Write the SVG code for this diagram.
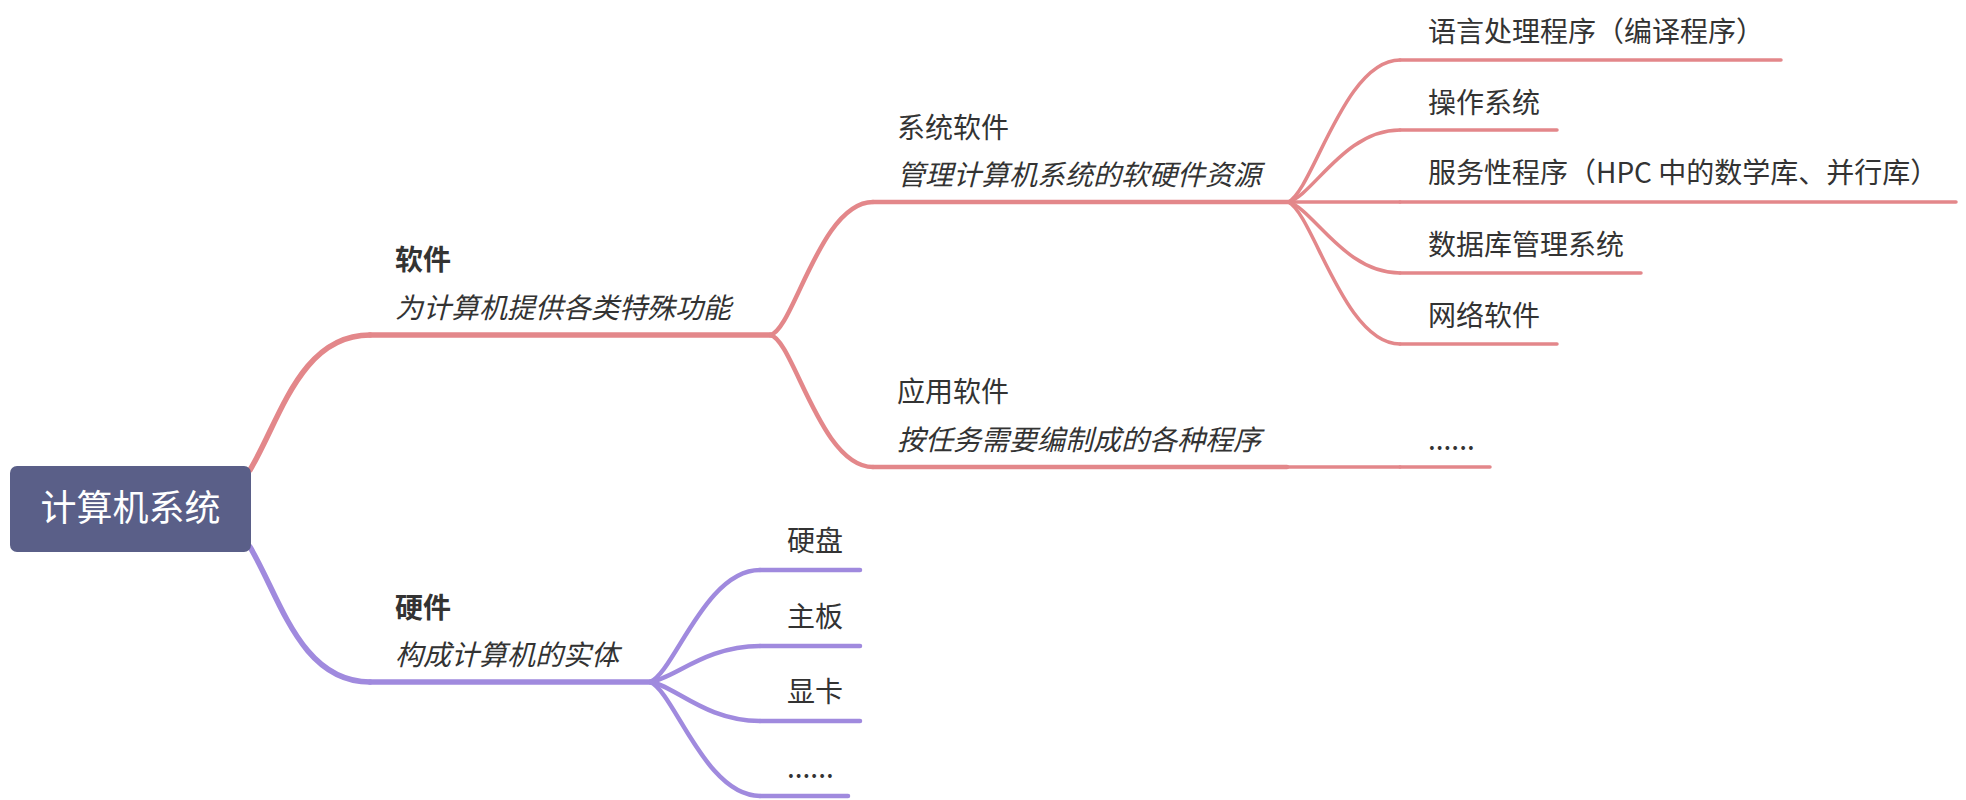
<svg xmlns="http://www.w3.org/2000/svg" width="1966" height="800" viewBox="0 0 1966 800">
<style>
text{font-family:"Noto Sans CJK SC","Noto Sans",sans-serif;fill:#333333;font-size:28px}
.root{fill:#ffffff;font-size:36px}
.b{font-weight:bold}
.i{font-style:italic}
.pk{stroke:#e3878a;fill:none;stroke-linecap:round}
.pu{stroke:#a08ade;fill:none;stroke-linecap:round}
.w1{stroke-width:5.5}
.w2{stroke-width:4.5}
.w3{stroke-width:3.5}
</style>
<rect width="1966" height="800" fill="#ffffff"/>
<g id="connectors">
<path class="pk w1" d="M 250 470 C 280 420, 300 335, 370 335"/>
<path class="pu w1" d="M 250 547 C 280 597, 300 682, 370 682"/>
<path class="pk w2" d="M 770 335 C 793 332, 820 202, 873 202"/>
<path class="pk w2" d="M 770 335 C 793 338, 820 467, 873 467"/>
<path class="pk w3" d="M 1288 202 C 1313 191, 1344 60, 1400 60"/>
<path class="pk w3" d="M 1288 202 C 1313 196, 1344 130, 1400 130"/>
<path class="pk w3" d="M 1288 202 L 1400 202"/>
<path class="pk w3" d="M 1288 202 C 1313 208, 1344 273, 1400 273"/>
<path class="pk w3" d="M 1288 202 C 1313 213, 1344 344, 1400 344"/>
<path class="pk w3" d="M 1287 467 L 1400 467"/>
<path class="pu w2" d="M 650 682 C 674 673, 705 570, 760 570"/>
<path class="pu w2" d="M 650 682 C 674 679, 705 646, 760 646"/>
<path class="pu w2" d="M 650 682 C 674 685, 705 721, 760 721"/>
<path class="pu w2" d="M 650 682 C 674 691, 705 796, 760 796"/>
</g>
<g id="root">
<rect x="10" y="466" width="241" height="86" rx="7" fill="#5a5f88"/>
<text class="root" x="130.5" y="521" text-anchor="middle">计算机系统</text>
</g>
<g id="software">
<path class="pk w1" d="M 370 335 L 770 335"/>
<text class="b" x="395" y="270">软件</text>
<text class="i" x="395" y="318">为计算机提供各类特殊功能</text>
</g>
<g id="system-software">
<path class="pk w2" d="M 873 202 L 1288 202"/>
<text x="897" y="138">系统软件</text>
<text class="i" x="897" y="185">管理计算机系统的软硬件资源</text>
</g>
<g id="application-software">
<path class="pk w2" d="M 873 467 L 1287 467"/>
<text x="897" y="402">应用软件</text>
<text class="i" x="897" y="450">按任务需要编制成的各种程序</text>
</g>
<g id="language-processor">
<path class="pk w3" d="M 1400 60 L 1781 60"/>
<text x="1428" y="42">语言处理程序（编译程序）</text>
</g>
<g id="operating-system">
<path class="pk w3" d="M 1400 130 L 1557 130"/>
<text x="1428" y="113">操作系统</text>
</g>
<g id="service-programs">
<path class="pk w3" d="M 1400 202 L 1956 202"/>
<text x="1428" y="183">服务性程序（HPC 中的数学库、并行库）</text>
</g>
<g id="dbms">
<path class="pk w3" d="M 1400 273 L 1641 273"/>
<text x="1428" y="255">数据库管理系统</text>
</g>
<g id="network-software">
<path class="pk w3" d="M 1400 344 L 1557 344"/>
<text x="1428" y="326">网络软件</text>
</g>
<g id="app-more">
<path class="pk w3" d="M 1400 467 L 1490 467"/>
<text x="1428" y="450">......</text>
</g>
<g id="hardware">
<path class="pu w1" d="M 370 682 L 650 682"/>
<text class="b" x="395" y="618">硬件</text>
<text class="i" x="395" y="665">构成计算机的实体</text>
</g>
<g id="hard-disk">
<path class="pu w2" d="M 760 570 L 860 570"/>
<text x="787" y="551">硬盘</text>
</g>
<g id="motherboard">
<path class="pu w2" d="M 760 646 L 860 646"/>
<text x="787" y="627">主板</text>
</g>
<g id="graphics-card">
<path class="pu w2" d="M 760 721 L 860 721"/>
<text x="787" y="702">显卡</text>
</g>
<g id="hw-more">
<path class="pu w2" d="M 760 796 L 848 796"/>
<text x="787" y="778">......</text>
</g>
</svg>
